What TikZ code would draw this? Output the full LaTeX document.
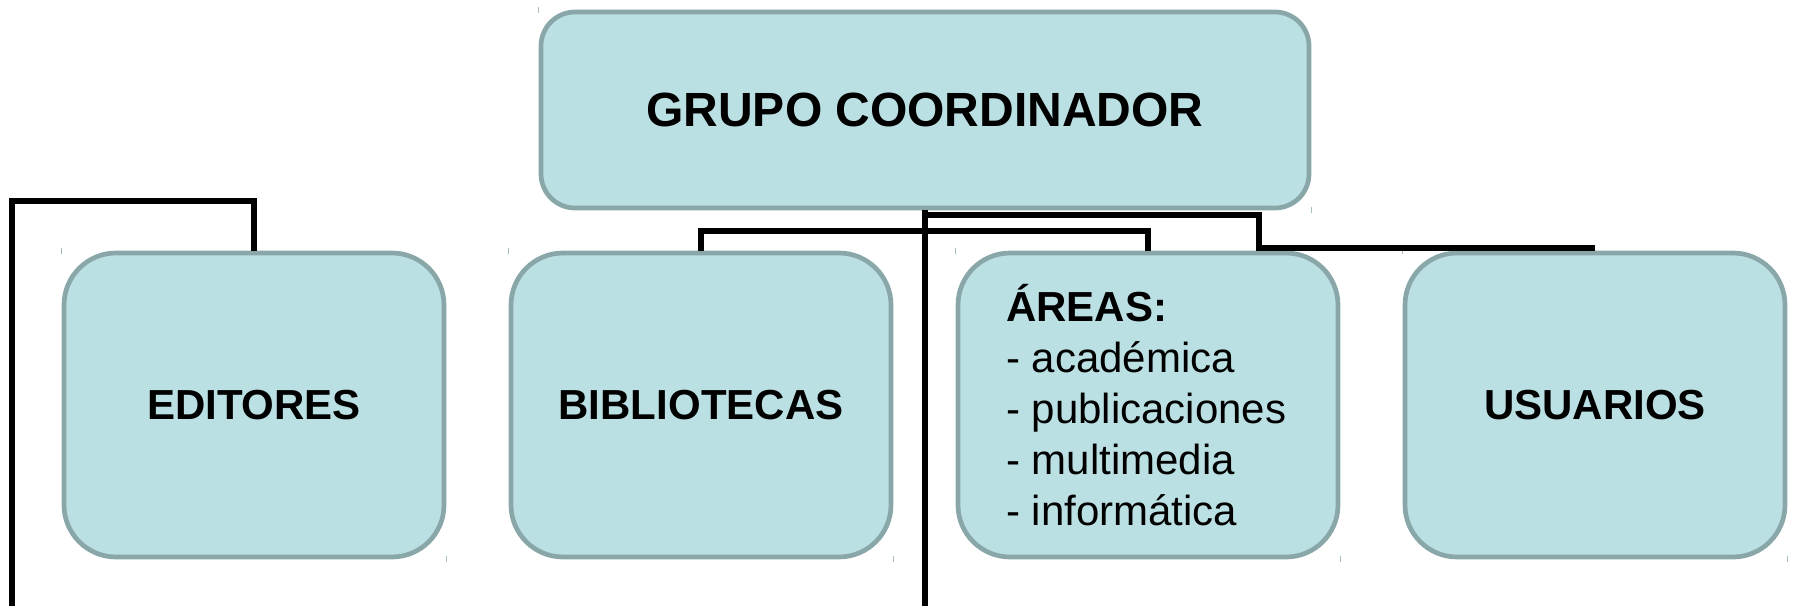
\documentclass[tikz,border=0pt]{standalone}
\usepackage{fontspec}
\setmainfont{Liberation Sans}
\definecolor{boxfill}{RGB}{187,224,227}
\definecolor{boxline}{RGB}{137,167,169}
\definecolor{tickc}{RGB}{165,188,192}
\begin{document}
\begin{tikzpicture}[x=1pt,y=1pt,
  orgbox/.style={draw=boxline, fill=boxfill, line width=4.7pt, rounded corners=52pt,
    minimum width=380pt, minimum height=304pt, inner sep=0pt,
    font=\fontsize{42}{51}\selectfont\bfseries},
  topbox/.style={orgbox, rounded corners=34pt, minimum width=768pt, minimum height=196pt,
    font=\fontsize{48}{58}\selectfont\bfseries},
  conn/.style={line width=6pt, draw=black},
  cornertick/.style={draw=tickc, line width=1.2pt}]
\useasboundingbox (0,0) rectangle (1797,-606);
\node[topbox] (top) at (925,-110) {GRUPO COORDINADOR};
\node[orgbox] (edit) at (254,-405) {EDITORES};
\node[orgbox] (bibl) at (701,-405) {BIBLIOTECAS};
\node[orgbox] (areas) at (1148,-405) {};
\node[orgbox] (usu) at (1595,-405) {USUARIOS};
\node[anchor=base west, inner sep=0pt, font=\fontsize{42}{51}\selectfont] (areastext) at (1006,-321)
  {\vtop{\baselineskip=51pt\hbox{\bfseries ÁREAS:}\hbox{- académica}\hbox{- publicaciones}\hbox{- multimedia}\hbox{- informática}}};
% corner ticks
\foreach \n in {top,edit,bibl,areas,usu}{
  \draw[cornertick] ([yshift=-3pt]\n.north west) -- ([yshift=3pt]\n.north west);
  \draw[cornertick] ([yshift=-3pt]\n.south east) -- ([yshift=3pt]\n.south east);
}
% connectors
\coordinate (mainend) at (925,-606);
\coordinate (ja) at ([yshift=-4.5pt]top.south);
\coordinate (jb) at (1259,-248);
\coordinate (barL) at (701,-230.5);
\coordinate (barR) at (1148,-230.5);
\coordinate (lc) at (12,-201);
\coordinate (lend) at (12,-606);
\draw[conn] (top.south) -- (mainend);
\draw[conn] (ja) -| (jb) -- (jb -| usu.north);
\draw[conn] (bibl.north) -- (barL) -- (barR) -- (areas.north);
\draw[conn] (edit.north) |- (lc) -- (lend);
\end{tikzpicture}
\end{document}
